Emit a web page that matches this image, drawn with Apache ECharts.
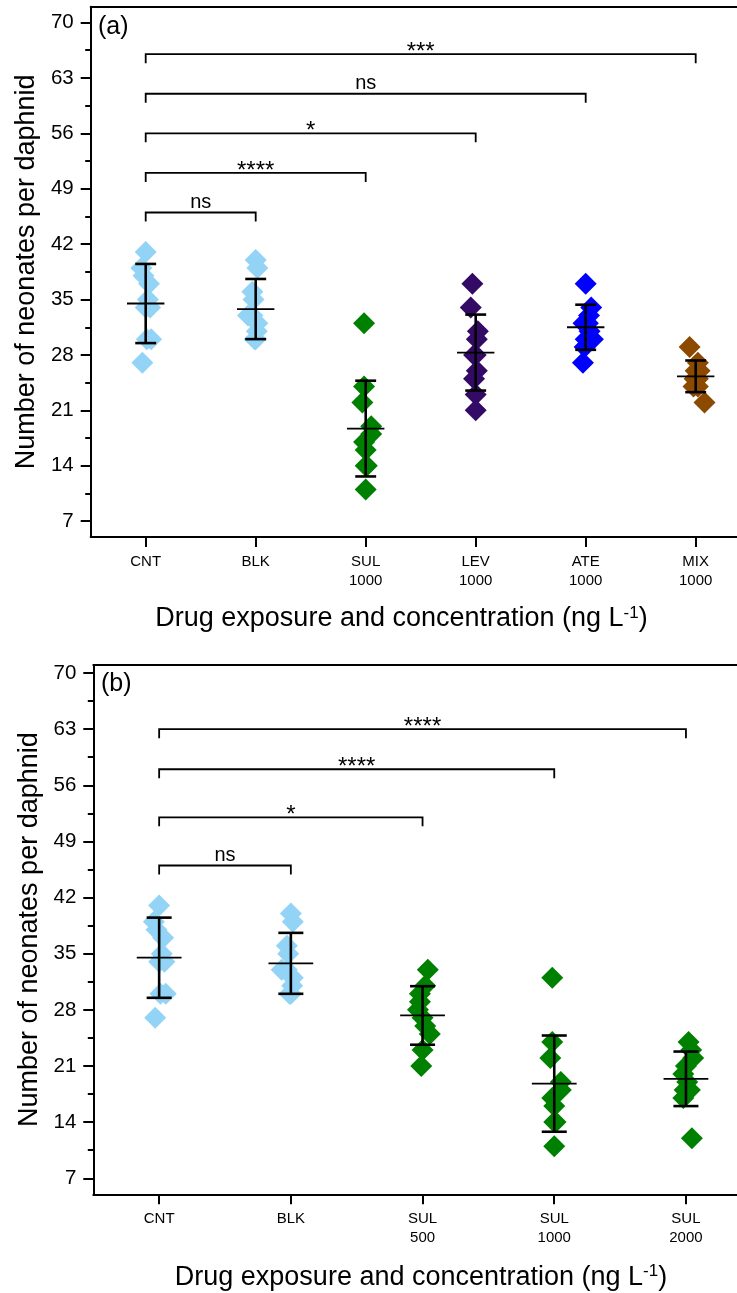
<!DOCTYPE html>
<html>
<head>
<meta charset="utf-8">
<script src="https://cdn.jsdelivr.net/npm/echarts@6/dist/echarts.min.js"></script>
<style>
  html, body { margin: 0; padding: 0; background: #ffffff; }
  #chart { width: 737px; height: 1293px; }
</style>
</head>
<body>
<div id="chart"></div>
<script>
// ---- Categories ----
const catsA = ['CNT', 'BLK', 'SUL\n1000', 'LEV\n1000', 'ATE\n1000', 'MIX\n1000'];
const catsB = ['CNT', 'BLK', 'SUL\n500', 'SUL\n1000', 'SUL\n2000'];

// ---- Neonates per daphnid (one value per replicate) ----
const cntVals     = [41, 39, 38, 37, 35, 34, 34, 30, 30, 27];
const blkVals     = [40, 39, 36, 35, 33, 33, 32, 31, 30, 30];
const sul1000Vals = [32, 24, 22, 19, 18, 17, 16, 14, 14, 11];
const levVals     = [37, 34, 31, 30, 28, 28, 26, 25, 23, 21];
const ateVals     = [37, 34, 33, 32, 32, 31, 30, 30, 29, 27];
const mixVals     = [29, 27, 26, 26, 25, 25, 24, 24, 25, 22];
const sul500Vals  = [33, 31, 30, 29, 28, 27, 26, 25, 23, 21];
const sul2000Vals = [24, 23, 22, 21, 20, 19, 18, 18, 17, 12];

// ---- Horizontal spread of the replicate symbols (fraction of a category) ----
const cntJit     = [0, -0.04, -0.02, 0.03, 0.02, 0, 0.04, 0.05, 0.01, -0.03];
const blkJit     = [0, 0.015, -0.03, -0.02, -0.07, -0.03, 0.015, 0.01, 0, -0.01];
const sul1000Jit = [-0.015, -0.015, -0.03, 0.05, 0.05, -0.015, 0, 0, 0.01, 0];
const levJit     = [-0.03, -0.045, 0.02, 0.01, -0.015, 0, 0.01, -0.015, 0, 0];
const ateJit     = [0, 0.05, 0.03, -0.02, 0.02, 0.035, 0.065, 0, -0.01, -0.025];
const mixJit     = [-0.055, 0.02, 0.035, 0, -0.01, 0.02, 0.02, -0.02, 0, 0.08];
const sul500Jit  = [0.04, 0.02, -0.02, -0.02, -0.035, 0, 0.02, 0.055, 0, -0.01];
const sul2000Jit = [0.02, 0.04, 0.055, 0, -0.02, 0.01, 0.03, -0.01, -0.02, 0.045];

// ---- Mean and standard deviation per group ----
const meanA = [34.5, 33.8, 18.7, 28.3, 31.5, 25.3];
const sdA   = [5.0, 3.8, 6.05, 4.8, 2.85, 2.0];
const meanB = [34.5, 33.8, 27.3, 18.8, 19.4];
const sdB   = [5.0, 3.8, 3.65, 6.0, 3.4];

// ---- Pairwise comparisons: [from, to, bracket height, significance] ----
const compA = [
  [0, 1, 46, 'ns'],
  [0, 2, 51, '****'],
  [0, 3, 56, '*'],
  [0, 4, 61, 'ns'],
  [0, 5, 66, '***']
];
const compB = [
  [0, 1, 46, 'ns'],
  [0, 2, 52, '*'],
  [0, 3, 58, '****'],
  [0, 4, 63, '****']
];

// ---- Axis ticks ----
const yMajor = [7, 14, 21, 28, 35, 42, 49, 56, 63, 70];
const yMinor = [10.5, 17.5, 24.5, 31.5, 38.5, 45.5, 52.5, 59.5, 66.5];

// ---- Colours ----
const LIGHT = '#93d4f6', GREEN = '#008000', PURPLE = '#330a66', BLUE = '#0000ff', BROWN = '#8b4a00';
const colorsA = [LIGHT, LIGHT, GREEN, PURPLE, BLUE, BROWN];
const colorsB = [LIGHT, LIGHT, GREEN, GREEN, GREEN];

const FONT = 'Liberation Sans, Arial, sans-serif';
const W = 737;

const groupsA = [[cntVals, cntJit], [blkVals, blkJit], [sul1000Vals, sul1000Jit],
                 [levVals, levJit], [ateVals, ateJit], [mixVals, mixJit]];
const groupsB = [[cntVals, cntJit], [blkVals, blkJit], [sul500Vals, sul500Jit],
                 [sul1000Vals, sul1000Jit], [sul2000Vals, sul2000Jit]];

function pointData(groups) {
  const out = [];
  groups.forEach(([vals, jit], i) => {
    vals.forEach((v, k) => out.push([i + jit[k], v, i]));
  });
  return out;
}
function barData(means, sds) {
  return means.map((m, i) => [i, m, sds[i]]);
}

function renderErrorBar(params, api) {
  const x = api.value(0), m = api.value(1), s = api.value(2);
  const c = api.coord([x, m]);
  const hi = api.coord([x, m + s]);
  const lo = api.coord([x, m - s]);
  const band = api.size([1, 0])[0];
  const capW = band * 0.19, meanW = band * 0.34;
  const st = { stroke: '#000', lineWidth: 2.6 };
  return {
    type: 'group',
    children: [
      { type: 'line', shape: { x1: c[0], y1: hi[1], x2: c[0], y2: lo[1] }, style: st },
      { type: 'line', shape: { x1: c[0] - capW / 2, y1: hi[1], x2: c[0] + capW / 2, y2: hi[1] }, style: st },
      { type: 'line', shape: { x1: c[0] - capW / 2, y1: lo[1], x2: c[0] + capW / 2, y2: lo[1] }, style: st },
      { type: 'line', shape: { x1: c[0] - meanW / 2, y1: c[1], x2: c[0] + meanW / 2, y2: c[1] },
        style: { stroke: '#000', lineWidth: 1.8 } }
    ]
  };
}

const compLabels = {};

function renderBracket(params, api) {
  const from = api.value(0), to = api.value(1), h = api.value(2);
  const label = compLabels[params.seriesIndex][params.dataIndex];
  const p1 = api.coord([from, h]);
  const p2 = api.coord([to, h]);
  const drop = 9;
  const star = label.indexOf('*') >= 0;
  return {
    type: 'group',
    children: [
      { type: 'polyline',
        shape: { points: [[p1[0], p1[1] + drop], [p1[0], p1[1]], [p2[0], p1[1]], [p2[0], p2[1] + drop]] },
        style: { stroke: '#000', lineWidth: 1.8, fill: null } },
      { type: 'text',
        style: { text: label, x: (p1[0] + p2[0]) / 2, y: star ? p1[1] - 2 : p1[1] - 10.5,
                 align: 'center', verticalAlign: 'middle',
                 font: (star ? '24px ' : '20px ') + FONT, fill: '#000' } }
    ]
  };
}

// Category spacing in pixels sets how much of the last band is visible at the right edge
function xAxes(grid, cats, left, band) {
  const idx = cats.map((c, i) => i);
  const max = -0.5 + (W - left) / band;
  return [
    { gridIndex: grid, type: 'value', min: -0.5, max: max, position: 'bottom',
      axisLine: { onZero: false, lineStyle: { color: '#000', width: 2 } },
      axisTick: { customValues: idx, length: 10, lineStyle: { color: '#000', width: 2 } },
      axisLabel: { customValues: idx, formatter: v => cats[Math.round(v)],
                   fontFamily: FONT, fontSize: 15, lineHeight: 19, color: '#000', margin: 15 },
      splitLine: { show: false } },
    { gridIndex: grid, type: 'value', min: -0.5, max: max, position: 'top',
      axisLine: { onZero: false, lineStyle: { color: '#000', width: 2 } },
      axisTick: { show: false }, axisLabel: { show: false }, splitLine: { show: false } }
  ];
}
function yAxes(grid, max) {
  return [
    { gridIndex: grid, type: 'value', min: 5, max: max, position: 'left',
      name: 'Number of neonates per daphnid', nameLocation: 'middle', nameGap: 50, nameRotate: 90,
      nameTextStyle: { fontFamily: FONT, fontSize: 27, color: '#000' },
      axisLine: { show: true, onZero: false, lineStyle: { color: '#000', width: 2 } },
      axisTick: { show: true, customValues: yMajor, length: 10, lineStyle: { color: '#000', width: 2 } },
      axisLabel: { customValues: yMajor, fontFamily: FONT, fontSize: 20.5, color: '#000', margin: 17 },
      splitLine: { show: false } },
    { gridIndex: grid, type: 'value', min: 5, max: max, position: 'left',
      axisLine: { show: false, onZero: false },
      axisTick: { show: true, customValues: yMinor, length: 5.5, lineStyle: { color: '#000', width: 2 } },
      axisLabel: { show: false }, splitLine: { show: false } }
  ];
}

const series = [];
function addPanel(xi, yi, groups, colors, means, sds, comps) {
  series.push({
    type: 'scatter', xAxisIndex: xi, yAxisIndex: yi, symbol: 'diamond', symbolSize: 22,
    data: pointData(groups), silent: true,
    itemStyle: { opacity: 1, color: p => colors[p.data[2]] }
  });
  series.push({
    type: 'custom', xAxisIndex: xi, yAxisIndex: yi, renderItem: renderErrorBar,
    data: barData(means, sds), silent: true, z: 5
  });
  compLabels[series.length] = comps.map(c => c[3]);
  series.push({
    type: 'custom', xAxisIndex: xi, yAxisIndex: yi, renderItem: renderBracket,
    data: comps.map(c => [c[0], c[1], c[2]]), silent: true, z: 5
  });
}
addPanel(0, 0, groupsA, colorsA, meanA, sdA, compA);
addPanel(2, 2, groupsB, colorsB, meanB, sdB, compB);

const xTitle = '{m|Drug exposure and concentration (ng L}{s|-1}{m|)}';
const titleRich = {
  m: { fontFamily: FONT, fontSize: 27, lineHeight: 29, fill: '#000' },
  s: { fontFamily: FONT, fontSize: 17, lineHeight: 17, verticalAlign: 'top', fill: '#000' }
};

const option = {
  animation: false,
  backgroundColor: '#ffffff',
  textStyle: { fontFamily: FONT },
  grid: [
    { left: 90.7, top: 6.7, right: 0, height: 530.3 },
    { left: 93.3, top: 665, right: 0, height: 529.3 }
  ],
  xAxis: [...xAxes(0, catsA, 90.7, 110), ...xAxes(1, catsB, 93.3, 131.7)],
  yAxis: [...yAxes(0, 72), ...yAxes(1, 71)],
  series: series,
  graphic: [
    { type: 'text', left: 98, top: 15, style: { text: '(a)', font: '25px ' + FONT, fill: '#000' } },
    { type: 'text', left: 101, top: 672, style: { text: '(b)', font: '25px ' + FONT, fill: '#000' } },
    { type: 'text', x: 401.5, y: 619, style: { text: xTitle, rich: titleRich, align: 'center', verticalAlign: 'middle' } },
    { type: 'text', x: 421, y: 1277.5, style: { text: xTitle, rich: titleRich, align: 'center', verticalAlign: 'middle' } }
  ]
};

const chart = echarts.init(document.getElementById('chart'), null, { renderer: 'canvas' });
chart.setOption(option);
</script>
</body>
</html>
